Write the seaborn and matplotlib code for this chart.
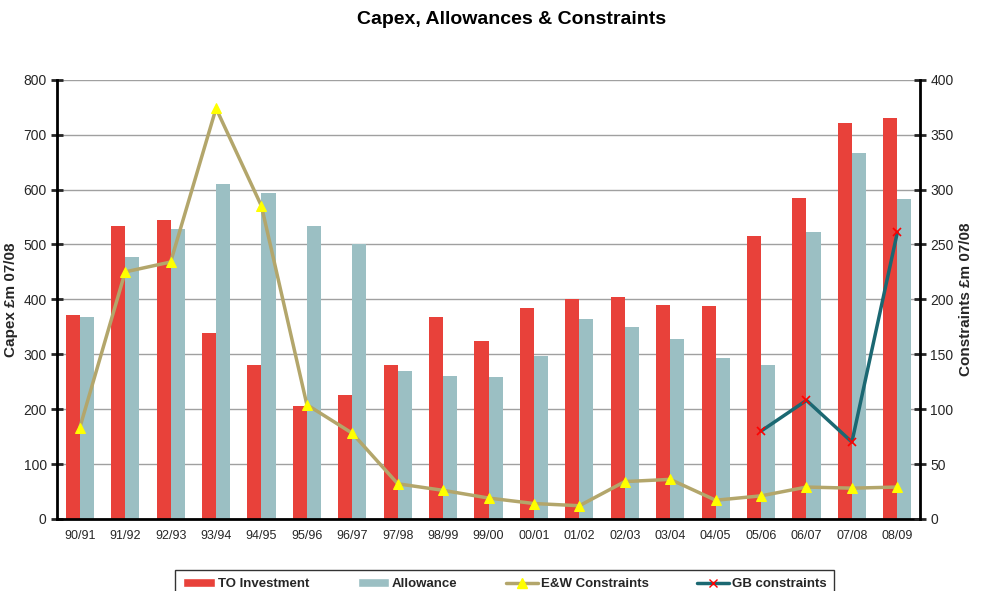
import numpy as np
import pandas as pd
import matplotlib
matplotlib.use("Agg")
import matplotlib.pyplot as plt
import seaborn as sns
from matplotlib.lines import Line2D
from matplotlib.patches import Patch

years = ["90/91", "91/92", "92/93", "93/94", "94/95", "95/96", "96/97", "97/98",
         "98/99", "99/00", "00/01", "01/02", "02/03", "03/04", "04/05", "05/06",
         "06/07", "07/08", "08/09"]
to_investment = [372, 534, 545, 338, 281, 205, 225, 281, 368, 324, 385, 400,
                 405, 390, 388, 516, 585, 722, 730]
allowance = [367, 478, 528, 611, 594, 533, 500, 270, 260, 258, 297, 365,
             350, 327, 294, 280, 522, 667, 583]
ew_constraints = [83, 225, 234, 374, 285, 104, 78, 32, 26, 19, 14, 12,
                  34, 36, 17, 21, 29, 28, 29]
gb_years = ["05/06", "06/07", "07/08", "08/09"]
gb_constraints = [80, 108, 70, 261]

RED = "#E8413A"
TEAL = "#9BBFC3"
OLIVE = "#B3A66B"
DARK_TEAL = "#1B6872"

sns.set_style("white")
plt.rcParams["font.family"] = ["Liberation Sans", "DejaVu Sans"]

bars = pd.DataFrame({
    "year": years * 2,
    "value": to_investment + allowance,
    "series": ["TO Investment"] * len(years) + ["Allowance"] * len(years),
})
pos = {y: i for i, y in enumerate(years)}
ew = pd.DataFrame({"x": [pos[y] for y in years], "v": ew_constraints})
gb = pd.DataFrame({"x": [pos[y] for y in gb_years], "v": gb_constraints})

fig = plt.figure(figsize=(9.84, 5.91), dpi=100)
ax = fig.add_axes([0.058, 0.122, 0.877, 0.743])

sns.barplot(data=bars, x="year", y="value", hue="series",
            palette=[RED, TEAL], width=0.62, gap=0, saturation=1,
            linewidth=0, ax=ax, legend=False, zorder=2)
ax.set_ylim(0, 800)
ax.set_xlim(-0.5, len(years) - 0.5)
ax.set_yticks(range(0, 801, 100))
ax.yaxis.grid(True, color="#A0A0A0", linewidth=1, zorder=0)
ax.set_axisbelow(True)
ax.set_xlabel("")
ax.set_ylabel("Capex £m 07/08", fontsize=11, fontweight="bold", labelpad=4)

ax2 = ax.twinx()
sns.lineplot(data=ew, x="x", y="v", color=OLIVE, linewidth=2.5, marker="^",
             markersize=7, markerfacecolor="yellow", markeredgecolor="yellow",
             ax=ax2, zorder=3)
sns.lineplot(data=gb, x="x", y="v", color=DARK_TEAL, linewidth=2.5, marker="x",
             markersize=6, markeredgecolor="red", markeredgewidth=1.2,
             ax=ax2, zorder=3)
ax2.set_ylim(0, 400)
ax2.set_yticks(range(0, 401, 50))
ax2.set_xlim(-0.5, len(years) - 0.5)
ax2.set_xlabel("")
ax2.set_ylabel("Constraints £m 07/08", fontsize=11, fontweight="bold", labelpad=4)

for a in (ax, ax2):
    a.spines["top"].set_visible(False)
    for side in ("left", "right", "bottom"):
        a.spines[side].set_linewidth(2)
        a.spines[side].set_color("black")
ax.spines["right"].set_visible(False)
ax2.spines["left"].set_visible(False)
ax2.spines["bottom"].set_visible(False)

ax.tick_params(axis="y", direction="inout", length=9, width=2, labelsize=10, pad=3)
ax2.tick_params(axis="y", direction="inout", length=9, width=2, labelsize=10, pad=3)
ax.set_xticks(np.arange(len(years) + 1) - 0.5, minor=True)
ax.tick_params(axis="x", which="minor", direction="inout", length=9, width=2)
ax.tick_params(axis="x", which="major", length=0, labelsize=9, pad=8)

fig.suptitle("Capex, Allowances & Constraints", x=0.52, y=0.982,
             fontsize=14, fontweight="bold", color="black")

handles = [
    Patch(facecolor=RED, label="TO Investment"),
    Patch(facecolor=TEAL, label="Allowance"),
    Line2D([], [], color=OLIVE, linewidth=2.5, marker="^", markersize=7,
           markerfacecolor="yellow", markeredgecolor="yellow", label="E&W Constraints"),
    Line2D([], [], color=DARK_TEAL, linewidth=2.5, marker="x", markersize=6,
           markeredgecolor="red", label="GB constraints"),
]
leg = fig.legend(handles=handles, loc="upper center", bbox_to_anchor=(0.513, 0.035),
                 ncol=4, frameon=True, fancybox=False, prop={"weight": "bold", "size": 9.5},
                 handlelength=2.4, columnspacing=3.7, handletextpad=0.2,
                 borderpad=0.6, borderaxespad=0)
leg.get_frame().set_edgecolor("black")
leg.get_frame().set_linewidth(1)

fig.savefig("out.png", dpi=100)
